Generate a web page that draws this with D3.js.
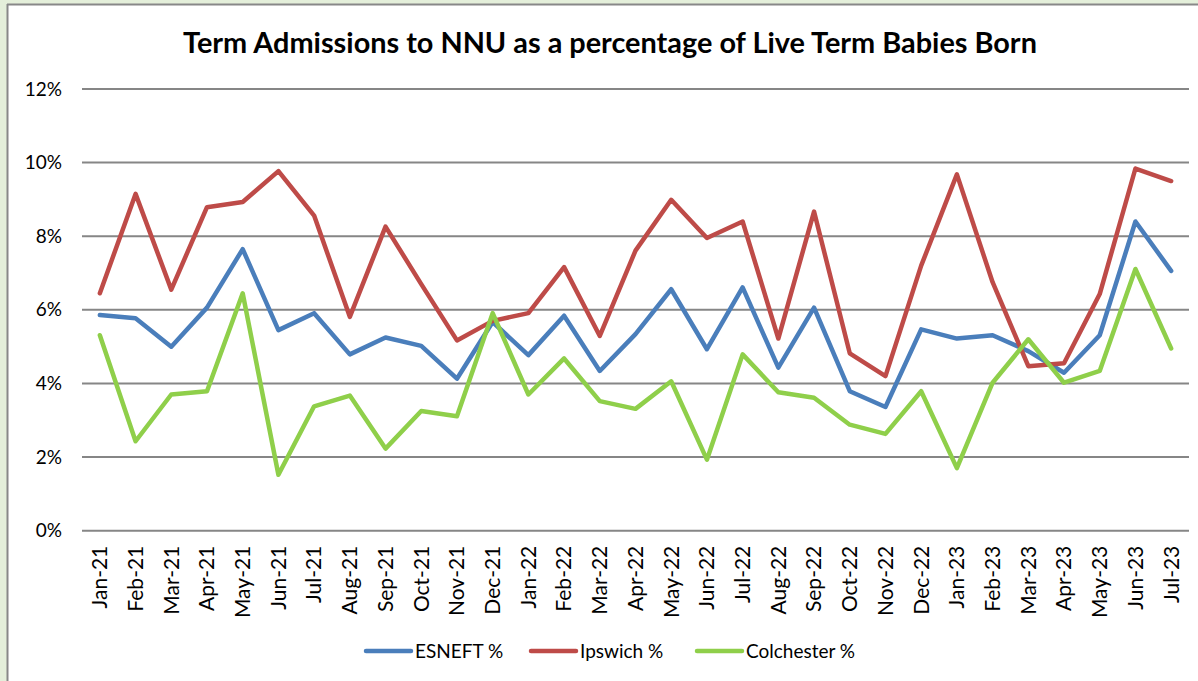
<!DOCTYPE html>
<html lang="en">
<head>
<meta charset="UTF-8">
<title>Term Admissions to NNU</title>
<style>
    body { margin: 0; padding: 0; background: #e4efda; }
    #chart { width: 1198px; height: 681px; display: block; }
    text { font-family: Lato, "Open Sans", sans-serif; fill: #000; }
</style>
</head>
<body>
<div id="chart"></div>
<script src="https://d3js.org/d3.v7.min.js"></script>
<script>
    // Month labels
    const months = ["Jan-21","Feb-21","Mar-21","Apr-21","May-21","Jun-21","Jul-21","Aug-21","Sep-21","Oct-21","Nov-21","Dec-21",
        "Jan-22","Feb-22","Mar-22","Apr-22","May-22","Jun-22","Jul-22","Aug-22","Sep-22","Oct-22","Nov-22","Dec-22",
        "Jan-23","Feb-23","Mar-23","Apr-23","May-23","Jun-23","Jul-23"];

    // Values in percent
    const esneft = [5.86,5.77,5.00,6.06,7.65,5.45,5.91,4.79,5.25,5.02,4.13,5.67,
        4.77,5.84,4.34,5.34,6.56,4.93,6.61,4.43,6.06,3.79,3.36,5.47,
        5.22,5.31,4.88,4.29,5.31,8.40,7.06];
    const ipswich = [6.45,9.15,6.55,8.79,8.93,9.77,8.56,5.81,8.26,6.70,5.17,5.70,
        5.91,7.16,5.29,7.61,8.99,7.95,8.40,5.22,8.67,4.82,4.20,7.20,
        9.68,6.75,4.47,4.55,6.43,9.84,9.50];
    const colchester = [5.31,2.43,3.70,3.79,6.45,1.52,3.38,3.67,2.23,3.25,3.11,5.91,
        3.70,4.68,3.52,3.31,4.06,1.93,4.79,3.76,3.61,2.88,2.63,3.79,
        1.70,4.02,5.20,4.02,4.34,7.11,4.95];

    const yTicks = [0, 2, 4, 6, 8, 10, 12];

    const series = [
        { name: "ESNEFT %", values: esneft, color: "#4a7ebb" },
        { name: "Ipswich %", values: ipswich, color: "#be4b48" },
        { name: "Colchester %", values: colchester, color: "#8fcf4a" }
    ];

    const width = 1198, height = 681;
    const margin = { left: 82, right: 9, top: 89, bottom: 150 };

    const svg = d3.select("#chart").append("svg")
        .attr("width", width)
        .attr("height", height);

    // white chart area with grey frame on top/left
    svg.append("rect")
        .attr("x", 8).attr("y", 5)
        .attr("width", width - 8).attr("height", height - 5)
        .attr("fill", "#fff");
    svg.append("line").attr("x1", 7.5).attr("x2", 7.5).attr("y1", 4).attr("y2", height)
        .attr("stroke", "#888").attr("stroke-width", 2);
    svg.append("line").attr("x1", 7).attr("x2", width).attr("y1", 4.5).attr("y2", 4.5)
        .attr("stroke", "#888").attr("stroke-width", 2);

    const x = d3.scaleBand()
        .domain(months)
        .range([margin.left, width - margin.right]);

    const y = d3.scaleLinear()
        .domain([0, 12])
        .range([530.7, margin.top]);

    // Title
    const title = svg.append("text")
        .attr("x", 610)
        .attr("y", 53)
        .attr("text-anchor", "middle")
        .style("font-weight", "bold")
        .style("font-size", "24px")
        .text("Term Admissions to NNU as a percentage of Live Term Babies Born");
    const tw = title.node().getComputedTextLength();
    title.style("font-size", (24 * 854 / tw) + "px");

    // Gridlines
    svg.append("g")
        .selectAll("line")
        .data(yTicks)
        .join("line")
        .attr("x1", margin.left)
        .attr("x2", width - margin.right)
        .attr("y1", d => y(d))
        .attr("y2", d => y(d))
        .attr("stroke", "#868686")
        .attr("stroke-width", 2);

    // Y axis labels
    const yAxis = svg.append("g")
        .attr("transform", `translate(${margin.left},0)`)
        .call(d3.axisLeft(y).tickValues(yTicks).tickFormat(d => d + "%").tickSize(0).tickPadding(20));
    yAxis.select(".domain").remove();
    yAxis.selectAll("text")
        .style("font-family", "Lato, 'Open Sans', sans-serif")
        .style("font-size", "19px")
        .attr("fill", "#000");

    // X axis labels
    const xAxis = svg.append("g")
        .attr("transform", `translate(0,${y(0)})`)
        .call(d3.axisBottom(x).tickSize(0).tickPadding(0));
    xAxis.select(".domain").remove();
    xAxis.selectAll("text")
        .style("font-family", "Lato, 'Open Sans', sans-serif")
        .style("font-size", "21px")
        .attr("fill", "#000")
        .attr("text-anchor", "end")
        .attr("transform", "rotate(-90)")
        .attr("x", -15)
        .attr("y", 0)
        .attr("dy", "0.35em");

    // Lines
    const line = d3.line()
        .x((d, i) => x(months[i]) + x.bandwidth() / 2)
        .y(d => y(d));

    svg.append("g")
        .selectAll("path")
        .data(series)
        .join("path")
        .attr("d", d => line(d.values))
        .attr("fill", "none")
        .attr("stroke", d => d.color)
        .attr("stroke-width", 4.5)
        .attr("stroke-linejoin", "round")
        .attr("stroke-linecap", "round");

    // Legend
    const legendX = [366, 531, 697];
    const legend = svg.append("g")
        .selectAll("g")
        .data(series)
        .join("g")
        .attr("transform", (d, i) => `translate(${legendX[i]},651)`);
    legend.append("line")
        .attr("x1", 0).attr("x2", 45)
        .attr("stroke", d => d.color)
        .attr("stroke-width", 4.5)
        .attr("stroke-linecap", "round");
    legend.append("text")
        .attr("x", 49)
        .attr("dy", "0.35em")
        .style("font-size", "19px")
        .text(d => d.name);
</script>
</body>
</html>
